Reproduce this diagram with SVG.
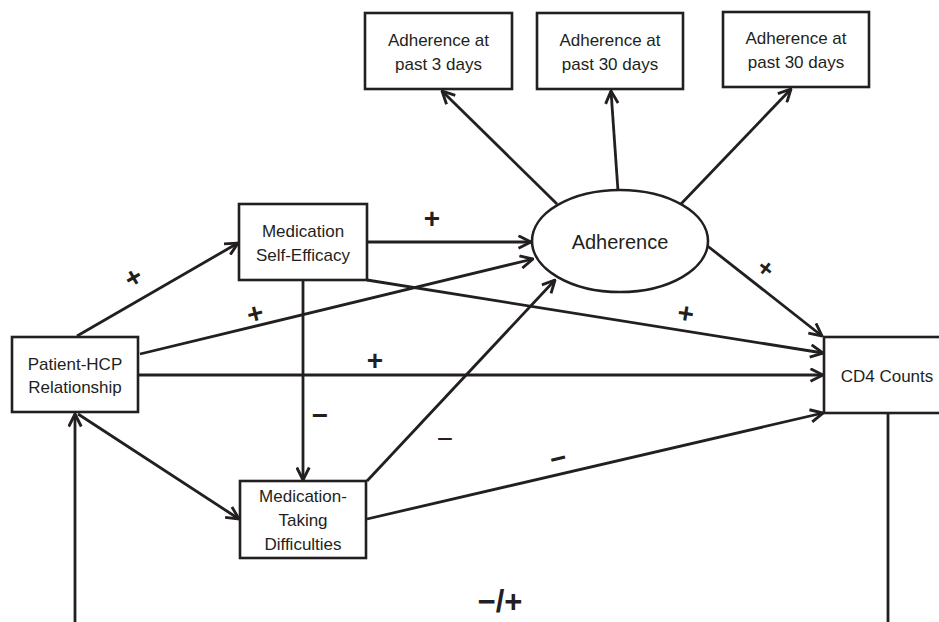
<svg xmlns="http://www.w3.org/2000/svg" width="939" height="622" viewBox="0 0 939 622">
<style>
.box{fill:#fff;stroke:#231f20;stroke-width:2.6}
.lbl{font-family:"Liberation Sans",Arial,sans-serif;font-size:17px;fill:#231f20;text-anchor:middle}
.big{font-size:20px}
.conn path{fill:none;stroke:#231f20;stroke-width:2.8}
.sg{font-family:"Liberation Sans",Arial,sans-serif;font-size:28px;font-weight:bold;fill:#231f20;text-anchor:middle}
.thin{font-weight:normal}
</style>
<defs>
<marker id="ah" viewBox="0 0 12 12" refX="11" refY="6" markerWidth="15" markerHeight="15" markerUnits="userSpaceOnUse" orient="auto">
<path d="M1,1 L11,6 L1,11" fill="none" stroke="#231f20" stroke-width="2.3" stroke-linejoin="miter"/>
</marker>
</defs>
<rect width="939" height="622" fill="#fff"/>
<g class="conn">
<path d="M77,336 L238,243" marker-end="url(#ah)"/>
<path d="M140,354 L533,259" marker-end="url(#ah)"/>
<path d="M138,375 L823,375" marker-end="url(#ah)"/>
<path d="M367,242 L531,242" marker-end="url(#ah)"/>
<path d="M367,280 L823,353" marker-end="url(#ah)"/>
<path d="M303,280 L303,480" marker-end="url(#ah)"/>
<path d="M78,414 L239,519" marker-end="url(#ah)"/>
<path d="M367,481 L555,280" marker-end="url(#ah)"/>
<path d="M367,519 L823,413" marker-end="url(#ah)"/>
<path d="M705,244 L822,336" marker-end="url(#ah)"/>
<path d="M557,204 L442,91" marker-end="url(#ah)"/>
<path d="M618,191 L611,91" marker-end="url(#ah)"/>
<path d="M680,205 L791,89" marker-end="url(#ah)"/>
<path d="M888,413 L888,625"/>
<path d="M75,625 L75,414" marker-end="url(#ah)"/>
</g>
<g id="adh3">
<rect class="box" x="365" y="13" width="147" height="76"/>
<text class="lbl" x="438.5" y="46">Adherence at</text>
<text class="lbl" x="438.5" y="70">past 3 days</text>
</g>
<g id="adh30a">
<rect class="box" x="537" y="13" width="146" height="76"/>
<text class="lbl" x="610" y="46">Adherence at</text>
<text class="lbl" x="610" y="70">past 30 days</text>
</g>
<g id="adh30b">
<rect class="box" x="723" y="12" width="146" height="75"/>
<text class="lbl" x="796" y="44">Adherence at</text>
<text class="lbl" x="796" y="68">past 30 days</text>
</g>
<g id="adherence">
<ellipse class="box" cx="620" cy="241" rx="88" ry="51"/>
<text class="lbl big" x="620" y="249">Adherence</text>
</g>
<g id="selfeff">
<rect class="box" x="239" y="204" width="128" height="76"/>
<text class="lbl" x="303" y="237">Medication</text>
<text class="lbl" x="303" y="261">Self-Efficacy</text>
</g>
<g id="patient">
<rect class="box" x="12" y="337" width="126" height="75"/>
<text class="lbl" x="75" y="370">Patient-HCP</text>
<text class="lbl" x="75" y="393">Relationship</text>
</g>
<g id="cd4">
<rect class="box" x="824" y="337" width="125" height="76"/>
<text class="lbl" x="887" y="382">CD4 Counts</text>
</g>
<g id="difficulties">
<rect class="box" x="240" y="481" width="126" height="77"/>
<text class="lbl" x="303" y="502">Medication-</text>
<text class="lbl" x="303" y="526">Taking</text>
<text class="lbl" x="303" y="550">Difficulties</text>
</g>
<g id="signs">
<text class="sg" transform="translate(133,277) rotate(-30)" x="0" y="10">+</text>
<text class="sg" transform="translate(255,313) rotate(-14)" x="0" y="10">+</text>
<text class="sg" x="375" y="370">+</text>
<text class="sg" x="432" y="228">+</text>
<text class="sg" transform="translate(686,313) rotate(9)" x="0" y="10">+</text>
<text class="sg" transform="translate(766,268) rotate(38)" x="0" y="9" style="font-size:25px">+</text>
<text class="sg" x="320" y="425">−</text>
<text class="sg thin" x="445" y="448">−</text>
<text class="sg" transform="translate(558,458) rotate(-13)" x="0" y="10">−</text>
<text class="sg" x="500" y="612" style="font-size:31px">−/+</text>
</g>
</svg>
